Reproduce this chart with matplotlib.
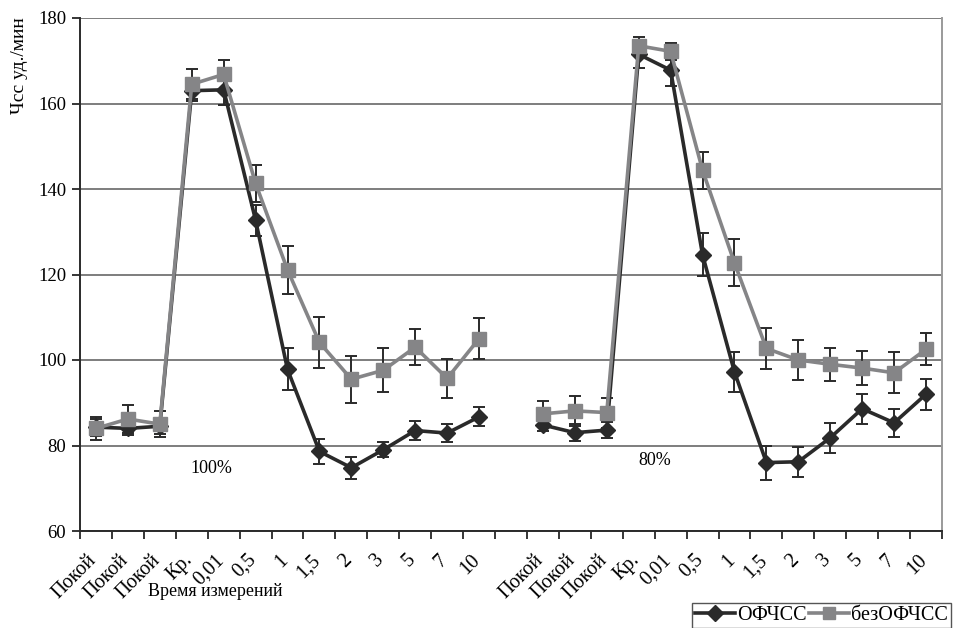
import matplotlib.pyplot as plt
import numpy as np
from matplotlib.lines import Line2D

plt.rcParams['font.family'] = ['Liberation Serif', 'DejaVu Serif']

# Time points: two blocks (100% and 80% load) separated by an empty slot
block_labels = ["Покой", "Покой", "Покой", "Кр.", "0,01", "0,5", "1", "1,5",
                "2", "3", "5", "7", "10"]
tick_labels = block_labels + [""] + block_labels

# Heart rate, block 100%
ofchss_100 = [84.3, 84.0, 84.5, 163.0, 163.2, 132.7, 97.8, 78.6, 74.8, 79.0, 83.5, 82.9, 86.7]
ofchss_100_err = [2.0, 1.5, 1.8, 2.5, 3.5, 3.6, 4.9, 2.9, 2.6, 1.8, 2.2, 2.1, 2.2]
bez_100 = [84.0, 86.2, 85.0, 164.5, 166.8, 141.3, 121.1, 104.1, 95.5, 97.6, 103.0, 95.7, 105.0]
bez_100_err = [2.7, 3.2, 3.1, 3.5, 3.4, 4.3, 5.6, 6.0, 5.5, 5.2, 4.2, 4.5, 4.8]

# Heart rate, block 80%
ofchss_80 = [84.8, 83.0, 83.6, 171.5, 167.8, 124.6, 97.2, 76.0, 76.2, 81.8, 88.6, 85.3, 92.0]
ofchss_80_err = [1.5, 2.0, 1.8, 3.2, 3.6, 5.0, 4.6, 4.0, 3.5, 3.5, 3.5, 3.2, 3.6]
bez_80 = [87.4, 88.1, 87.7, 173.5, 172.2, 144.4, 122.7, 102.7, 100.0, 99.0, 98.1, 97.0, 102.5]
bez_80_err = [3.1, 3.5, 3.5, 2.0, 2.0, 4.3, 5.5, 4.9, 4.7, 3.9, 4.0, 4.8, 3.7]

x_100 = np.arange(len(block_labels))
x_80 = x_100 + len(block_labels) + 1

black = "#2a2a2a"
grey = "#858587"

fig = plt.figure(figsize=(9.61, 6.28), dpi=100)
ax = fig.add_axes([80 / 961, 1 - 531 / 628, 862 / 961, 513 / 628])

for xs, ys, es in [(x_100, ofchss_100, ofchss_100_err),
                   (x_80, ofchss_80, ofchss_80_err)]:
    ax.errorbar(xs, ys, yerr=es, color=black, lw=2.6, marker="D", ms=7.8,
                ecolor=black, elinewidth=1.4, capsize=4.3, capthick=1.4,
                zorder=3)

for xs, ys, es in [(x_100, bez_100, bez_100_err),
                   (x_80, bez_80, bez_80_err)]:
    ax.errorbar(xs, ys, yerr=es, color=grey, lw=2.6, marker="s", ms=10.5,
                ecolor=black, elinewidth=1.4, capsize=4.3, capthick=1.4,
                zorder=4)

ax.set_xlim(-0.5, len(tick_labels) - 0.5)
ax.set_ylim(60, 180)
ax.set_yticks(np.arange(60, 181, 20))
ax.yaxis.grid(True, color="#5a5a5a", lw=1.1)
ax.set_axisbelow(True)

# tick marks between categories; rotated labels sit slightly left of centre
ax.set_xticks(np.arange(-0.5, len(tick_labels)), labels=[])
ax.set_xticks(np.arange(len(tick_labels)) - 0.28, minor=True)
ax.set_xticklabels(tick_labels, minor=True, rotation=45, ha="right",
                   va="top", rotation_mode="anchor", fontsize=14.5)
ax.tick_params(axis="x", which="major", length=6, width=1.1, direction="out")
ax.tick_params(axis="x", which="minor", length=0, pad=14)
ax.tick_params(axis="y", length=6, width=1.1, labelsize=13.5, pad=4)

ax.spines["top"].set_visible(False)
ax.spines["right"].set_color("#9a9a9a")
ax.spines["right"].set_linewidth(1.4)
for side in ("left", "bottom"):
    ax.spines[side].set_color(black)
    ax.spines[side].set_linewidth(1.4)

ax.text(3.6, 74.7, "100%", ha="center", va="center", fontsize=13)
ax.text(17.5, 76.6, "80%", ha="center", va="center", fontsize=13)

fig.text(20 / 961, 1 - 17 / 628, "Чсс уд./мин", rotation=90, ha="center",
         va="top", fontsize=14)
fig.text(148 / 961, 1 - 592 / 628, "Время измерений", ha="left",
         va="center", fontsize=13)

handles = [Line2D([], [], color=black, lw=2.6, marker="D", ms=7.8),
           Line2D([], [], color=grey, lw=2.6, marker="s", ms=9)]
leg = fig.legend(handles, ["ОФЧСС", "безОФЧСС"], loc="upper left",
                 bbox_to_anchor=(692 / 961, 1 - 603 / 628), ncol=2,
                 frameon=True, fancybox=False, edgecolor=black, fontsize=14.5,
                 handlelength=2.0, handletextpad=0.1, columnspacing=0.1,
                 borderaxespad=0, borderpad=0.15)
leg.get_frame().set_linewidth(1.0)

fig.savefig("out.png", dpi=100)
